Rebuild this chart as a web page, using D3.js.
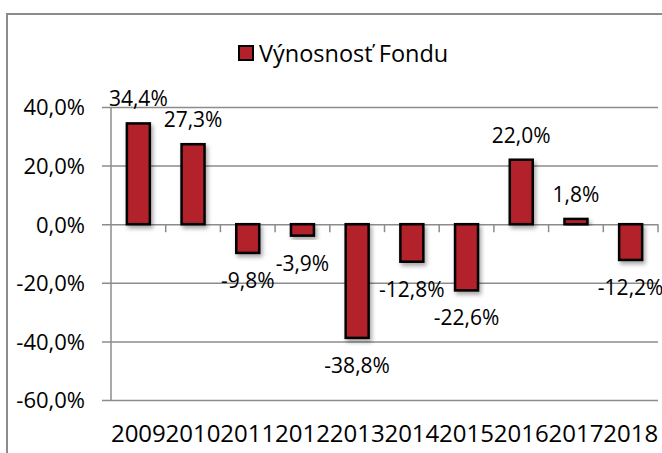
<!DOCTYPE html>
<html>
<head>
<meta charset="utf-8">
<script src="https://cdn.jsdelivr.net/npm/d3@7"></script>
<style>
  body { margin: 0; background: #fff; }
  svg { display: block; }
</style>
</head>
<body>
<svg id="bar" width="662" height="453"></svg>
<script>
(() => {

    // chart data
    const years = ['2009', '2010', '2011', '2012', '2013', '2014', '2015', '2016', '2017', '2018'];
    const returns = [34.4, 27.3, -9.8, -3.9, -38.8, -12.8, -22.6, 22.0, 1.8, -12.2];
    const y_ticks = [-60, -40, -20, 0, 20, 40];
    const series_name = 'Výnosnosť Fondu';

    // chart parameters
    const plot_left = 111;
    const plot_right = 658;
    const plot_top = 107;
    const plot_bottom = 400;
    const bar_color = '#b3202a';
    const grid_color = '#8c8c8c';
    const font = '"Open Sans", "Noto Sans", sans-serif';

    const fmt = (v) => v.toFixed(1).replace('.', ',') + '%';

    let svg = d3.select('#bar');

    // drop shadow for bars
    let defs = svg.append('defs');
    let filter = defs.append('filter').attr('id', 'shadow')
        .attr('x', '-30%').attr('y', '-30%').attr('width', '160%').attr('height', '160%');
    filter.append('feDropShadow')
        .attr('dx', 2).attr('dy', 3).attr('stdDeviation', 2)
        .attr('flood-color', '#000').attr('flood-opacity', 0.35);

    // outer frame
    svg.append('rect')
        .attr('x', 7).attr('y', 14)
        .attr('width', 700).attr('height', 500)
        .attr('fill', 'none')
        .attr('stroke', grid_color)
        .attr('stroke-width', 2);

    let x_scale = d3.scaleBand()
        .domain(years)
        .range([plot_left, plot_right])
        .paddingInner(0.58)
        .paddingOuter(0.29);

    let y_scale = d3.scaleLinear()
        .domain([-60, 40])
        .range([plot_bottom, plot_top]);

    // y axis with gridlines
    let y_axis = d3.axisLeft(y_scale)
        .tickValues(y_ticks)
        .tickSize(-(plot_right - plot_left))
        .tickFormat(fmt);

    let gy = svg.append('g')
        .attr('transform', `translate(${plot_left}, 0)`)
        .call(y_axis);
    gy.select('.domain').remove();
    gy.selectAll('.tick line')
        .attr('x1', -9)
        .attr('stroke', grid_color)
        .attr('stroke-width', 1.5);
    gy.selectAll('.tick text')
        .attr('x', -26)
        .attr('dy', '0.36em')
        .style('font-family', font)
        .style('font-size', '22px')
        .style('fill', '#000');

    // vertical axis line
    svg.append('line')
        .attr('x1', plot_left).attr('x2', plot_left)
        .attr('y1', plot_top).attr('y2', plot_bottom)
        .attr('stroke', grid_color)
        .attr('stroke-width', 1.5);

    // category ticks on zero line
    let step = x_scale.step();
    svg.append('g')
        .selectAll('line')
        .data(years)
        .enter()
        .append('line')
        .attr('x1', (d) => x_scale(d) - x_scale.paddingOuter() * step + step)
        .attr('x2', (d) => x_scale(d) - x_scale.paddingOuter() * step + step)
        .attr('y1', y_scale(0))
        .attr('y2', y_scale(0) + 8)
        .attr('stroke', grid_color)
        .attr('stroke-width', 1.5);

    // x labels
    let x_axis = d3.axisBottom(x_scale).tickSize(0);
    let gx = svg.append('g')
        .attr('transform', `translate(0, ${plot_bottom})`)
        .call(x_axis);
    gx.select('.domain').remove();
    gx.selectAll('.tick text')
        .attr('y', 42)
        .attr('dy', 0)
        .style('font-family', font)
        .style('font-size', '24px')
        .style('fill', '#000');

    // bars
    svg.append('g')
        .selectAll('rect')
        .data(returns)
        .enter()
        .append('rect')
        .attr('x', (d, i) => x_scale(years[i]))
        .attr('y', (d) => y_scale(Math.max(0, d)))
        .attr('width', x_scale.bandwidth())
        .attr('height', (d) => Math.abs(y_scale(d) - y_scale(0)))
        .attr('fill', bar_color)
        .attr('stroke', '#000')
        .attr('stroke-width', 2.5)
        .attr('filter', 'url(#shadow)');

    // data labels
    svg.append('g')
        .selectAll('text')
        .data(returns)
        .enter()
        .append('text')
        .attr('x', (d, i) => x_scale(years[i]) + x_scale.bandwidth() / 2)
        .attr('y', (d) => d >= 0 ? y_scale(d) - 17 : y_scale(d) + 35)
        .text((d) => fmt(d))
        .style('text-anchor', 'middle')
        .style('font-family', font)
        .style('font-size', '21px')
        .style('fill', '#000');

    // legend
    let legend = svg.append('g');
    legend.append('rect')
        .attr('x', 239).attr('y', 46)
        .attr('width', 14).attr('height', 14)
        .attr('fill', bar_color)
        .attr('stroke', '#000')
        .attr('stroke-width', 2);
    legend.append('text')
        .attr('x', 259).attr('y', 62)
        .text(series_name)
        .style('font-family', font)
        .style('font-size', '23.5px')
        .style('fill', '#000');

})();
</script>
</body>
</html>
